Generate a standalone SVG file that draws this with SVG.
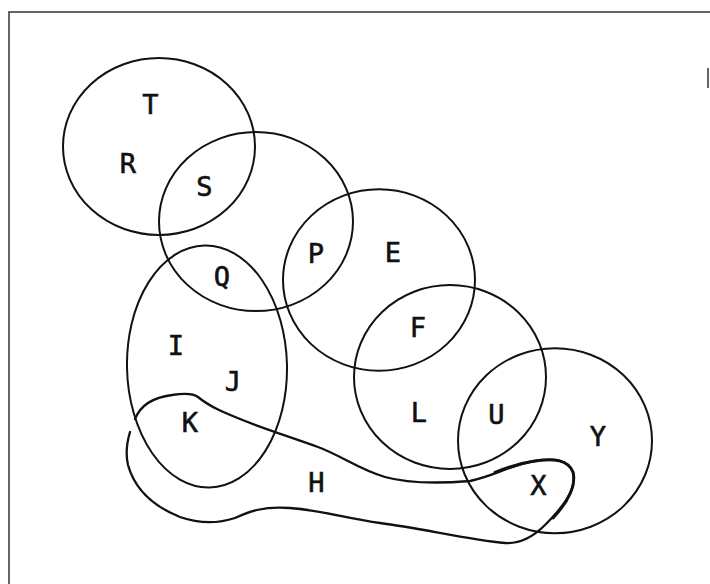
<svg xmlns="http://www.w3.org/2000/svg" width="710" height="584" viewBox="0 0 710 584">
<style>
.c{fill:none;stroke:#111;stroke-width:2}
.b{fill:none;stroke:#111;stroke-width:2.3;stroke-linejoin:round;stroke-linecap:round}
.t{font-family:"DejaVu Sans Mono","Liberation Mono",monospace;font-size:27px;fill:#111;stroke:#111;stroke-width:0.6;text-anchor:middle}
.f{fill:none;stroke:#333;stroke-width:1.5}
</style>
<rect width="710" height="584" fill="#fff"/>
<g id="frame">
<path class="f" d="M9,584 L9,12 L710,12"/>
<path class="f" d="M708,68 L708,88"/>
</g>
<g id="connectors">
<ellipse id="c1" class="c" cx="159" cy="146.5" rx="96" ry="88.5"/>
<ellipse id="c2" class="c" cx="256" cy="221.6" rx="97" ry="89.5"/>
<ellipse id="c3" class="c" cx="379" cy="280" rx="96" ry="90.7"/>
<ellipse id="c4" class="c" cx="450" cy="377" rx="96" ry="92"/>
<ellipse id="c5" class="c" cx="555" cy="440.7" rx="97" ry="92.5"/>
<ellipse id="e1" class="c" cx="207" cy="366.5" rx="80" ry="121" transform="rotate(-1.2 207 366.5)"/>
<path id="h" class="b" d="M135,419 C141,404 156,397 172,395 C185,393 193,393 198,397 C210,407 225,413 245,421 C265,429 290,437 318,447 C340,455 360,470 385,477 C410,484 445,483 470,481 C495,476 510,465 535,461 C555,458 568,460 573,472 C578,490 560,510 545,525 C532,538 520,544 505,543 C470,540 420,528 380,523 C345,518 320,510 290,508 C262,506 248,512 235,518 C220,523 200,524 180,517 C155,507 135,490 128,465 C125,452 127,442 130,432"/>
<path class="b" style="stroke-width:3" d="M495,472.5 C508,467 520,463 535,461 C555,458 568,460 573,472 C577,488 565,505 553,518"/>
</g>
<g id="labels">
<g id="T"><text class="t" x="150.5" y="114">T</text></g>
<g id="R"><text class="t" x="128" y="173">R</text></g>
<g id="S"><text class="t" x="204.5" y="195.5">S</text></g>
<g id="P"><text class="t" x="316" y="262.5">P</text></g>
<g id="E"><text class="t" x="393" y="261.5">E</text></g>
<g id="Q"><text class="t" x="222" y="286">Q</text></g>
<g id="F"><text class="t" x="418" y="337">F</text></g>
<g id="I"><text class="t" x="176" y="355">I</text></g>
<g id="J"><text class="t" x="233" y="391">J</text></g>
<g id="K"><text class="t" x="190" y="432">K</text></g>
<g id="L"><text class="t" x="419" y="422">L</text></g>
<g id="U"><text class="t" x="496.5" y="424">U</text></g>
<g id="Y"><text class="t" x="598" y="446">Y</text></g>
<g id="H"><text class="t" x="316.5" y="492">H</text></g>
<g id="X"><text class="t" x="538.5" y="495">X</text></g>
</g>
</svg>
